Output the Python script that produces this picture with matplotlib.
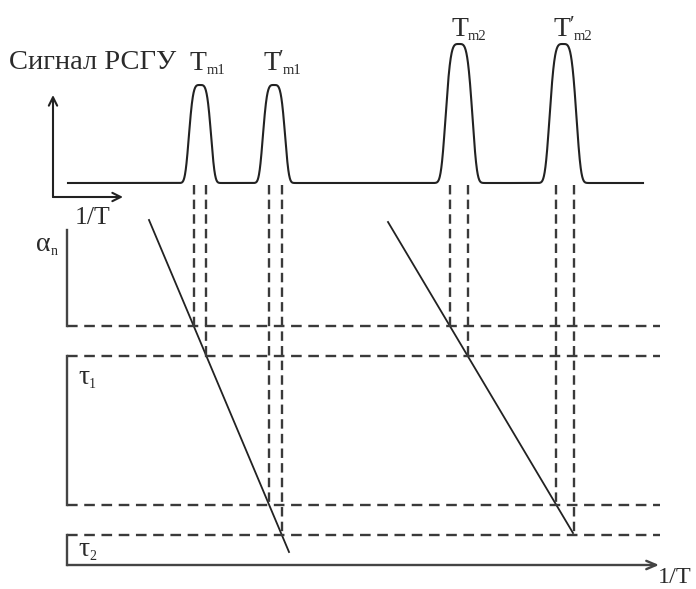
import matplotlib.pyplot as plt
import numpy as np

SERIF = ["Liberation Serif", "DejaVu Serif"]

# diagram coordinates (pixel-like units, y grows downward)
baseline_y = 183
baseline_x = [68, 643]

peak_pos = [200, 274, 459, 563]
peak_height = [98, 98, 139, 139]
peak_width = [12.0, 12.0, 14.5, 14.5]
peak_sub = ["m1", "m1", "m2", "m2"]
peak_prime = [False, True, False, True]
# left edge / baseline of the "T" of each peak label
label_x = [190, 263, 451, 554]
label_y = [70, 70, 36, 36]

# horizontal dashed levels: alpha_n bottom, tau1 top, tau1 bottom, tau2 top
levels = [325.7, 355.7, 505, 535]

# two sloped lines (x0, y0, x1, y1)
line1 = [149, 220, 289, 552]
line2 = [388, 222, 573, 533]

# which line and which levels belong to each peak
peak_line = [0, 0, 1, 1]
peak_levels = [[0, 1], [2, 3], [0, 1], [2, 3]]

axis_x = 67
axis_bottom = 565
level_end = 660


def x_on_line(line, y):
    x0, y0, x1, y1 = line
    return x0 + (y - y0) * (x1 - x0) / (y1 - y0)


def sub_label(ax, x, y, main, sub, prime=False, size=20, subsize=10.5):
    t = ax.text(x, y, main, family=SERIF, fontsize=size, color="#2a2a2a",
                ha="left", va="baseline")
    if prime:
        ax.annotate("\u2032", xy=(1, 1), xycoords=t, xytext=(-1, 1),
                    textcoords="offset points", family=SERIF,
                    fontsize=15, color="#2a2a2a", ha="left", va="top")
    ax.annotate(sub, xy=(1, 0), xycoords=t, xytext=(2 if prime else 0, -1),
                textcoords="offset points", family=SERIF, fontsize=subsize,
                color="#2a2a2a", ha="left", va="bottom")


fig = plt.figure(figsize=(6.96, 5.89), dpi=100)
ax = fig.add_axes([0, 0, 1, 1])
ax.set_xlim(0, 696)
ax.set_ylim(589, 0)
ax.axis("off")

ink = "#222222"
dash_col = "#3a3a3a"

# signal trace
x = np.linspace(baseline_x[0], baseline_x[1], 3000)
y = np.full_like(x, float(baseline_y))
for pos, h, w in zip(peak_pos, peak_height, peak_width):
    y -= h * np.exp(-np.abs((x - pos) / w) ** 4)
ax.plot(x, y, color=ink, lw=1.5)

for lx, ly, sub, pr in zip(label_x, label_y, peak_sub, peak_prime):
    sub_label(ax, lx, ly, "T", sub, prime=pr)

# sloped lines
lines = [line1, line2]
for ln in lines:
    ax.plot([ln[0], ln[2]], [ln[1], ln[3]], color=ink, lw=1.3)

# horizontal dashed levels
for lv in levels:
    ax.plot([axis_x, level_end], [lv, lv], color=dash_col, lw=1.7,
            dashes=(4.5, 2.8))

# vertical dashed projections
for i in range(len(peak_pos)):
    for li in peak_levels[i]:
        lv = levels[li]
        xv = x_on_line(lines[peak_line[i]], lv)
        ax.plot([xv, xv], [baseline_y + 2, lv], color=dash_col, lw=1.7,
                dashes=(4.0, 2.2))

# left solid axis pieces
ax.plot([axis_x, axis_x], [230, levels[0]], color="#444444", lw=1.7)
ax.plot([axis_x, axis_x], [levels[1], levels[2]], color="#444444", lw=1.7)
ax.plot([axis_x, axis_x], [levels[3], axis_bottom], color="#444444", lw=1.7)

# bottom axis arrow
ax.annotate("", xy=(659, axis_bottom), xytext=(axis_x, axis_bottom),
            arrowprops=dict(arrowstyle="->,head_length=0.7,head_width=0.3",
                            color="#444444", lw=1.7, shrinkA=0, shrinkB=0))

# top-left small axes
ax.annotate("", xy=(53, 95), xytext=(53, 197),
            arrowprops=dict(arrowstyle="->,head_length=0.6,head_width=0.3",
                            color=ink, lw=1.5, shrinkA=0, shrinkB=0))
ax.annotate("", xy=(123, 197), xytext=(53, 197),
            arrowprops=dict(arrowstyle="->,head_length=0.6,head_width=0.3",
                            color=ink, lw=1.5, shrinkA=0, shrinkB=0))

ax.text(9, 69, "Сигнал РСГУ", family=SERIF, fontsize=20.5, color="#2a2a2a",
        ha="left", va="baseline")
ax.text(75, 224, "1/T", family=SERIF, fontsize=18.5, color="#2a2a2a",
        ha="left", va="baseline")
ax.text(658, 583, "1/T", family=SERIF, fontsize=17.5, color="#2a2a2a",
        ha="left", va="baseline")
sub_label(ax, 36, 251, "α", "n", size=20, subsize=10)
sub_label(ax, 78, 384, "τ", "1", size=20, subsize=10)
sub_label(ax, 78, 556, "τ", "2", size=20, subsize=10)

fig.savefig("out.png", dpi=100, facecolor="white")
